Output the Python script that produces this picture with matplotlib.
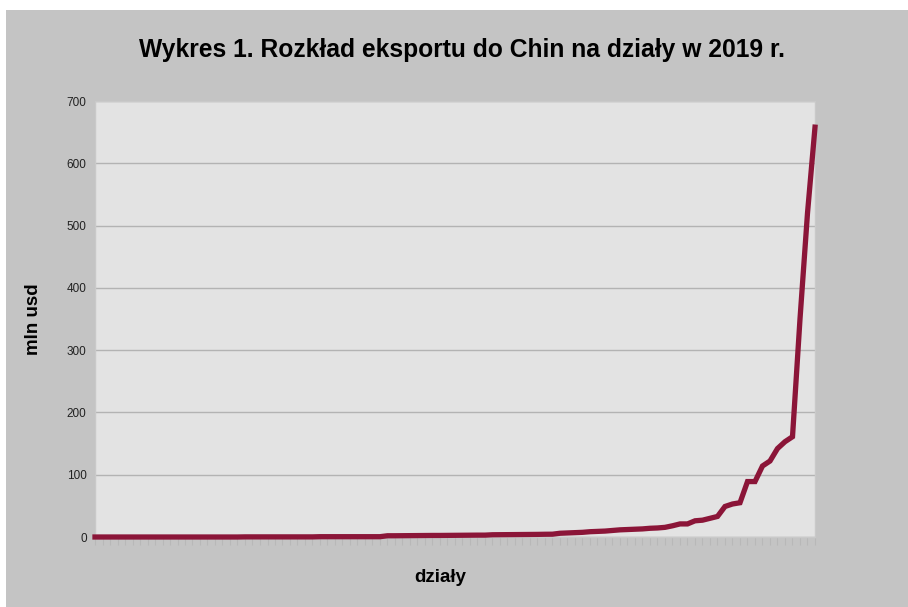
import matplotlib
matplotlib.use("Agg")
import matplotlib.pyplot as plt
from matplotlib.patches import Rectangle

plt.rcParams['font.family'] = ['Liberation Sans', 'DejaVu Sans']

# export values (mln usd) for each chapter, sorted ascending
low_values = [0.0] * 20 + [0.2] * 10 + [0.5] * 9
mid_values = [2.0, 2.0, 2.1, 2.2, 2.3, 2.4, 2.5, 2.5, 2.6, 2.7, 2.8, 2.9, 3.0, 3.0,
              3.6, 3.7, 3.8, 3.9, 4.0, 4.1, 4.2, 4.4, 4.5,
              6.0, 6.5, 7.0, 7.5,
              8.5, 9.0, 9.5, 10.5, 11.5]
high_values = [12.0, 12.5, 13.0, 14.0, 14.5, 15.5, 18.0, 21.0, 21.0, 26.0, 27.0,
               30.0, 33.0, 49.0, 53.0, 55.0, 89.0, 89.0, 114.0, 122.0, 142.0,
               153.0, 161.0, 350.0, 520.0, 658.0]
values = low_values + mid_values + high_values
categories = list(range(len(values)))

y_ticks = [0, 100, 200, 300, 400, 500, 600, 700]

title = "Wykres 1. Rozkład eksportu do Chin na działy w 2019 r."
line_color = "#8b1538"

fig = plt.figure(figsize=(9.08, 6.07), dpi=100)
fig.patch.set_facecolor("white")
fig.patches.append(Rectangle((6 / 908, 0), 1, 1 - 10 / 607, transform=fig.transFigure,
                             facecolor="#c4c4c4", edgecolor="none", zorder=-5))

ax = fig.add_axes([95 / 908, 1 - 537 / 607, 720 / 908, 436 / 607])
ax.set_facecolor("#e3e3e3")
ax.plot(categories, values, color=line_color, linewidth=3.8, solid_joinstyle="miter",
        clip_on=False, zorder=3)

ax.set_xlim(0, len(values) - 1)
ax.set_ylim(0, 700)
ax.set_yticks(y_ticks)
ax.set_yticklabels([str(t) for t in y_ticks], fontsize=8.5, color="#222222")
ax.set_xticks(categories)
ax.set_xticklabels([])
ax.tick_params(axis="x", length=6, width=0.8, color="#b8b8b8", direction="out")
ax.tick_params(axis="y", length=0, pad=6)
ax.grid(axis="y", color="#b3b3b3", linewidth=1.0)
ax.set_axisbelow(True)
for side in ["top", "right", "left", "bottom"]:
    ax.spines[side].set_color("#c9c9c9")
    ax.spines[side].set_linewidth(1.0)

ax.set_ylabel("mln usd", fontsize=13.5, fontweight="bold", va="center")
ax.yaxis.set_label_coords(-0.086, 0.5)
ax.set_xlabel("działy", fontsize=13.5, fontweight="bold", va="center")
ax.xaxis.set_label_coords(0.48, -0.092)
fig.text(462 / 908, 1 - 50 / 607, title, fontsize=17.7, fontweight="bold",
         ha="center", va="center")

fig.savefig("out.png", dpi=100)
